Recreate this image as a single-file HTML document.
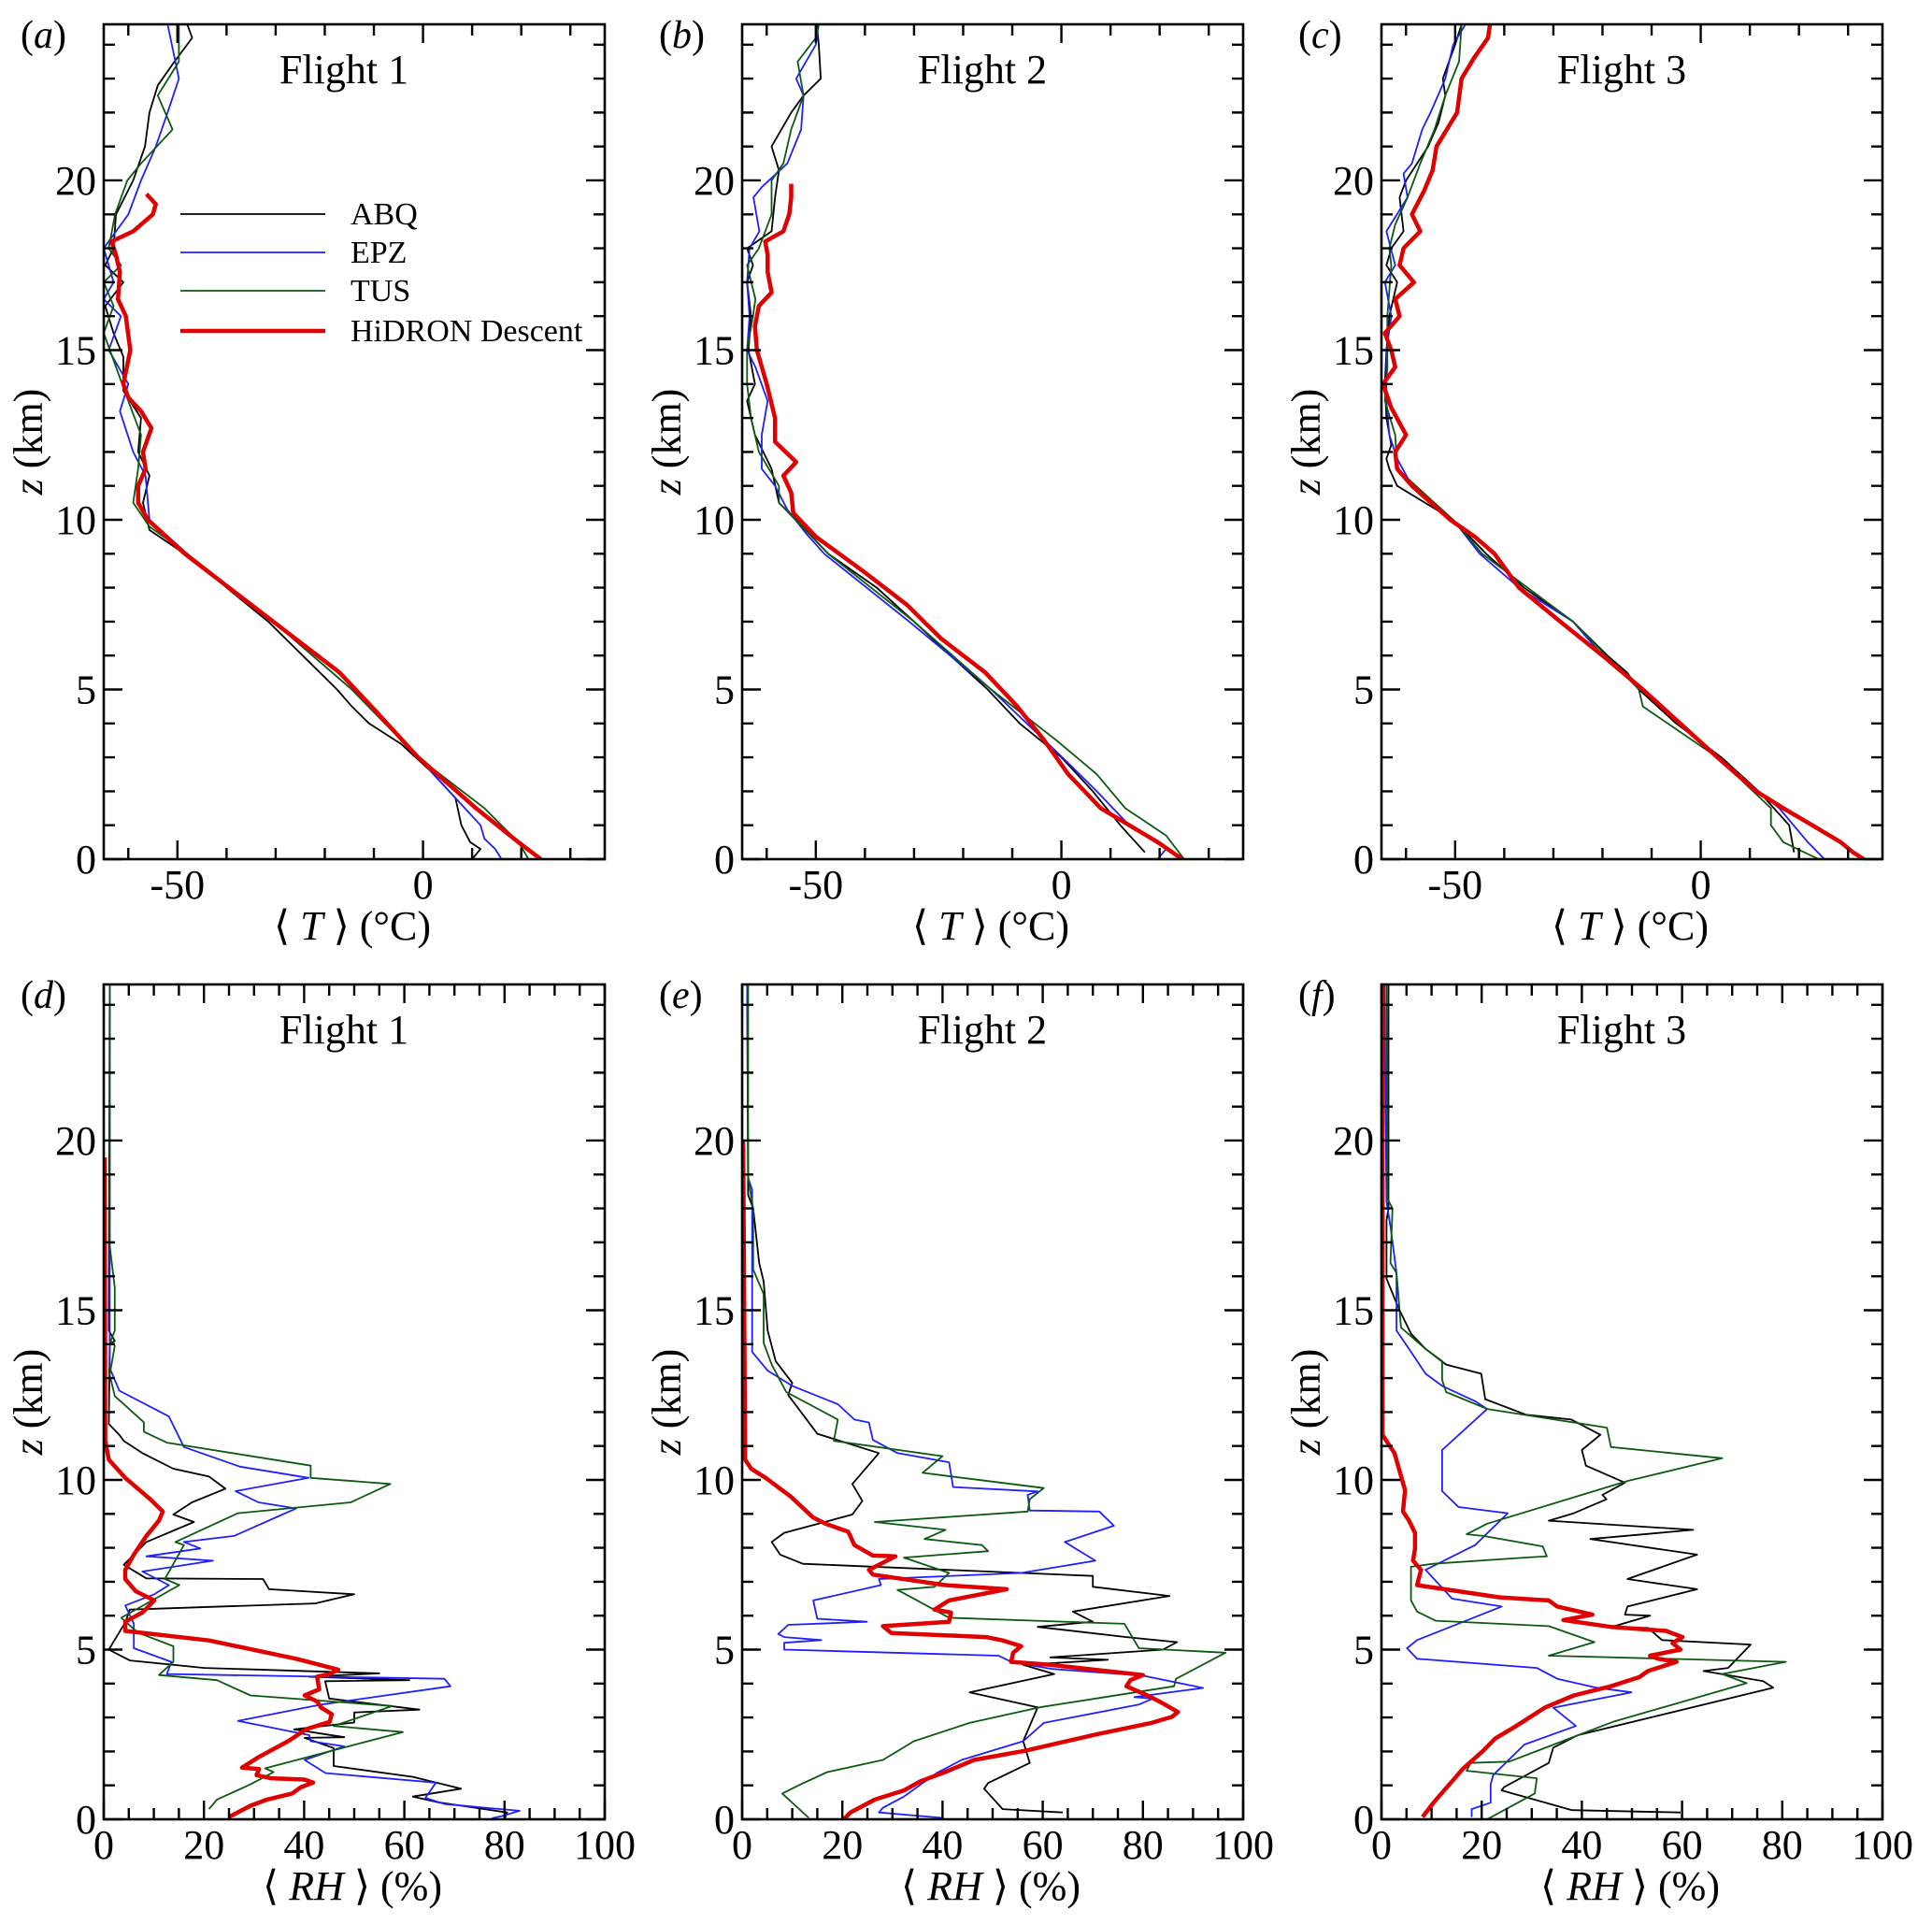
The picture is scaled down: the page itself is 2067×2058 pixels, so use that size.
<!DOCTYPE html>
<html><head><meta charset="utf-8"><style>
html,body{margin:0;padding:0;background:#fff;}
svg{display:block;font-family:"Liberation Serif",serif;}
</style></head><body>
<svg id="fig" width="2067" height="2058" viewBox="0 0 2067 2058" xmlns="http://www.w3.org/2000/svg"></svg>
<script>
// ---- Temperature data: [z km, T degC]
const abqT1=[[0,10],[0.3,11.7],[0.5,9.6],[1,7.8],[1.8,6.6],[2.6,1.5],[3.4,-4.5],[4,-11],[4.5,-14.5],[5,-17.5],[6,-24.5],[7,-31.5],[8,-40],[8.8,-46.5],[9.7,-55.7],[10.5,-57],[11.3,-55.7],[12,-58],[13,-57.4],[13.8,-61],[14.8,-61],[15.5,-63],[16.3,-64.7],[17,-61],[17.5,-64.7],[18,-63],[19,-62.5],[20,-59],[21,-56.6],[22,-55.7],[22.8,-54],[23.5,-50.6],[24.2,-47],[24.6,-48]];
const epzT1=[[0,16],[0.3,14.7],[0.6,12.5],[1,11.7],[3,-1],[5,-14.5],[7,-30.5],[9,-48],[10,-55.7],[10.5,-56],[11.3,-56.5],[12,-59],[13.2,-61.7],[14,-60],[15,-64],[16,-61.5],[16.5,-65],[17,-63],[18,-65],[19,-60],[20,-57.4],[21,-54.4],[22,-52],[23,-49.7],[24.6,-52]];
const tusT1=[[0,21.5],[0.5,19.4],[1.5,12.5],[3,-1],[5,-14.5],[7,-30.5],[9,-48],[9.8,-55.7],[10.5,-59],[11.5,-58],[12.5,-57.4],[13.5,-60],[14.5,-62.5],[15.5,-65],[16.3,-63],[17,-65],[17.5,-61.5],[18,-64],[19,-62.7],[20,-60.2],[20.5,-57.4],[21.5,-51],[22.5,-54],[23.5,-49.7],[24.6,-49.7]];
const hidT1=[[0,24],[0.5,19.4],[1.5,10.8],[3,-1],[4.5,-10.5],[5.5,-17],[7,-30.5],[8,-39.5],[9,-48.5],[10,-56],[10.5,-58],[11,-58],[11.5,-56.5],[12,-57],[12.7,-55.3],[13.2,-57.4],[13.6,-60],[14,-61],[15,-59.6],[16,-60.5],[16.5,-62.1],[17.3,-61.7],[17.8,-62.5],[18.2,-63.4],[18.5,-59],[19,-55],[19.3,-54.4],[19.6,-56.3]];
const abqT2=[[0.2,17],[1,12],[2,6.4],[3,0],[4,-8.5],[5,-15],[6,-22.6],[7,-30],[8,-37.6],[9,-47.5],[10,-54],[10.5,-57.5],[11.5,-59],[12.5,-62.4],[13.5,-64],[14,-62.4],[15,-63.7],[16,-63.2],[17,-64],[17.5,-62.8],[18,-64],[18.5,-59],[19.5,-58.3],[20.3,-57.5],[21,-59],[22,-55],[22.5,-52.5],[23,-49],[24,-49.4],[24.6,-49.8]];
const epzT2=[[0,19.6],[0.3,21.3],[1,13.8],[2,7.2],[3,0.2],[5,-14.3],[7,-31],[9,-48.3],[9.6,-52],[10.3,-55.8],[11,-58.3],[11.5,-61],[12.5,-61],[13.5,-59.8],[14.5,-62.3],[15,-64],[16,-63.5],[17,-64],[18,-63.5],[18.5,-61.5],[19.5,-62.7],[19.8,-61],[20.5,-55.8],[21.5,-53],[22.5,-52.5],[23,-54],[24,-50],[24.6,-49.4]];
const tusT2=[[0,25],[0.7,21.3],[1.5,13],[2.5,7.2],[3.5,-1],[5,-14.3],[7,-30],[9,-47.5],[10.5,-57.5],[11,-57.5],[12,-61.6],[13,-63.2],[14,-64],[15,-64],[16,-62.8],[16.5,-62.3],[17.5,-64],[18,-61.6],[19,-59],[20,-59],[20.5,-56.6],[21.5,-55],[22.5,-52.5],[23.5,-53.7],[24.2,-50],[24.6,-49.4]];
const hidT2=[[0,24.6],[0.5,19.6],[1.5,8],[2.5,1.4],[3.5,-3.5],[4.5,-9],[5.5,-15.5],[6.5,-24.5],[7.5,-31.5],[8.5,-40.5],[9.5,-50],[10.2,-54.6],[10.8,-55],[11.3,-56.6],[11.7,-54],[12.3,-58.3],[13,-58.3],[14,-60],[15,-62],[15.7,-62.4],[16.3,-61.6],[16.7,-59],[17.3,-59.8],[17.8,-59.8],[18.2,-60.3],[18.5,-56.6],[19,-55.4],[19.5,-55],[19.9,-55]];
const abqT3=[[0.2,19],[1,18],[2,11.8],[3,4.2],[4,-5],[5,-12.6],[5.5,-15],[6,-19],[7,-26],[8,-36],[9,-43.7],[10,-50.4],[11,-61.8],[11.5,-63.4],[11.8,-64],[12.2,-63],[13,-64],[14,-64.3],[15,-64],[16,-63.4],[17,-61.8],[17.5,-64],[18,-63],[18.5,-60.5],[19.5,-61.3],[20,-60],[21,-55.5],[21.7,-53.4],[22.5,-52],[23,-52.5],[24,-50],[24.6,-48.7]];
const epzT3=[[0,25.2],[0.5,21.8],[1.5,16],[3,3.4],[5,-11.8],[6,-20],[7,-26],[8,-37],[9,-45],[10,-50.4],[11,-58.8],[11.8,-61.8],[12.5,-63.4],[13.5,-64],[15,-64],[16,-63],[17,-64.3],[17.5,-62.2],[18.5,-64],[19.5,-59.7],[20.2,-60.5],[20.5,-58.8],[21.5,-56.7],[22,-55],[23,-52],[24,-50.4],[24.6,-47.9]];
const tusT3=[[0,24],[0.5,16.8],[1,14.3],[1.5,14.3],[3,3.4],[4.5,-11.8],[5,-12.6],[7,-26],[9,-44.5],[10,-50.4],[11,-58],[11.5,-61.8],[12.5,-62.2],[13.5,-64.3],[14.5,-63.8],[16,-63.8],[17.5,-63],[18,-63.4],[18.7,-62.2],[19.5,-59.7],[20.5,-57.1],[21.5,-54.2],[22.5,-52],[23.5,-49.2],[24.6,-48.7]];
const hidT3=[[0,33.2],[0.2,31],[0.5,28.5],[1,22.7],[1.5,16.8],[2,11.3],[3,3.4],[4,-4.2],[5,-11.8],[6,-20],[7,-28.6],[8,-37],[9,-42],[9.5,-46],[10,-51],[11,-58.8],[11.5,-61.8],[12,-62.2],[12.5,-60],[13.3,-63],[14,-64.7],[14.5,-62.2],[15,-63],[15.5,-64.3],[16,-61.3],[16.5,-62.2],[17,-58.4],[17.5,-61.3],[18,-60.5],[18.5,-57.1],[19,-58.8],[19.7,-56.3],[20.3,-54.6],[21,-53.8],[22,-49.6],[23,-48.7],[23.6,-46.2],[24.2,-43.3],[24.6,-42.9]];
// ---- Relative humidity data: [z km, RH %]
const abqR1=[[0,80],[0.2,80.5],[0.5,66.7],[0.67,61.7],[0.9,71.3],[1.25,61.7],[1.57,45.9],[2.1,45.9],[2.4,40.1],[2.42,48],[2.65,38],[2.85,50],[3.15,50],[3.23,63],[3.56,45],[4.07,44.2],[4.1,61],[4.2,41],[4.3,55],[4.46,20.1],[4.68,5.2],[5,1],[5.8,4.3],[6.18,5.2],[6.36,42.2],[6.63,50],[6.78,33],[7.08,31.8],[7.1,8.5],[7.5,4],[8.17,8.5],[8.76,18],[8.98,13.9],[9.34,17.6],[9.74,24.3],[10.1,21],[10.33,13.9],[10.79,7.7],[11.15,4],[11.33,3.1],[11.65,1],[14,1.2],[14.1,2.2],[14.4,1],[24.6,1.2]];
const epzR1=[[0.03,77.5],[0.1,79.6],[0.25,83],[0.45,68],[0.63,64.2],[1.08,66.3],[1.36,44.3],[1.75,40.1],[2.15,48],[2.3,41.3],[2.48,41],[2.9,26.8],[3.38,43.4],[3.92,69.2],[4.14,68],[4.28,12.6],[4.64,13.5],[5.04,6],[5.76,6],[6.3,4.3],[6.63,10.1],[6.9,13],[7.3,7.7],[7.62,21.8],[7.75,8.5],[7.98,19.3],[8.17,16],[8.35,26],[9.16,38.4],[9.34,30.9],[9.67,26.3],[10.06,40.9],[10.39,27.2],[10.97,16],[11.87,13],[12.63,3.1],[13.3,1.2],[16.9,1.2],[24.6,1.2]];
const tusR1=[[0.3,21],[0.58,22.6],[1.03,29.3],[1.39,33.9],[1.5,32.2],[2.57,59.7],[2.75,45.9],[3.34,57.6],[3.65,29.3],[4.1,22.6],[4.25,11],[4.64,13.9],[5.1,13.9],[5.5,6.8],[5.94,3.5],[6.9,15.1],[7.08,12.2],[8.08,16],[8.17,14.3],[9.02,26.8],[9.34,49.3],[9.88,57.2],[10.06,41.3],[10.42,41.3],[11.1,12.6],[11.42,8],[11.7,8],[12.47,2.2],[13.1,1.2],[13.95,2.2],[14.1,1.4],[14.4,2.2],[15.03,2.2],[15.66,2.2],[16.9,1.2],[24.6,1.2]];
const hidR1=[[0.07,25],[0.4,29.3],[0.58,32.6],[0.76,37.6],[0.94,39.3],[1.08,41.8],[1.17,40.1],[1.21,33.4],[1.3,30.5],[1.48,31],[1.52,27.6],[1.84,31],[2.3,36.8],[2.66,40.5],[2.87,45.1],[3.1,45.5],[3.29,43.4],[3.47,42.6],[3.65,40.1],[3.83,43],[4.2,42.6],[4.28,45.1],[4.41,46.8],[4.73,38.4],[5.27,21],[5.55,4.3],[5.82,4.3],[6.09,7.7],[6.45,10.1],[6.72,6.4],[7.08,4.3],[7.35,4.3],[7.8,6],[8.35,8.5],[8.8,11],[9.07,11.8],[9.43,9.3],[10.06,4.3],[10.6,1],[11.15,0.3],[19.5,0.2]];
const abqR2=[[0.2,64],[0.3,52],[0.9,48.3],[1.07,49.1],[1.66,57.4],[2.3,56.1],[3.3,59],[3.74,45.4],[4.28,62.3],[4.55,56.1],[4.7,73],[4.77,61.5],[5,84],[5.22,86.8],[5.37,76.7],[5.67,59],[5.82,70],[6.12,66],[6.58,85.3],[6.85,70],[7.17,70],[7.53,12.1],[7.8,7.6],[8.17,5.9],[8.44,8.4],[8.98,22],[9.38,24],[9.88,22],[10.79,27.3],[11.36,15],[12.5,9.2],[12.86,10],[13.5,6.7],[14.4,5.1],[15.85,4.3],[16.4,3.4],[18,2.2],[18.4,1.2],[24.6,1]];
const epzR2=[[0.04,40],[0.2,27.3],[0.34,28.1],[0.67,32.3],[1.36,38.8],[1.75,43.8],[2.3,56.1],[2.84,60.2],[3.38,79.2],[3.56,82],[3.6,78.3],[3.87,92],[4.23,80],[4.43,61.9],[4.64,53.7],[4.82,51.2],[5,8.4],[5.2,8.4],[5.28,15.8],[5.37,8.4],[5.46,7.2],[5.73,9.2],[5.82,24.9],[5.91,15],[6.45,14.2],[6.9,27.7],[7.08,27.3],[7.26,55.7],[7.62,70.5],[8.17,64.4],[8.65,74.2],[9.07,71.3],[9.1,57.4],[9.56,57],[9.66,59],[9.79,42.1],[10.52,41.3],[10.79,31],[11.18,26.1],[11.69,25.3],[11.78,22.4],[12.23,19.1],[12.77,10],[13.22,5.1],[13.77,2],[18.55,2],[18.9,1.2],[24.6,1]];
const tusR2=[[0.04,13.3],[0.76,8],[1.03,11.7],[1.39,17],[1.75,28.1],[2.3,34.3],[2.84,45.4],[3.3,59.4],[3.92,86.2],[4.14,86.6],[4.91,96.5],[5.04,79.2],[5.76,76.3],[5.94,41.3],[6.76,31],[6.85,38.4],[7.26,41.3],[7.71,32.3],[7.9,49.1],[8.08,47.9],[8.26,36.4],[8.53,40.6],[8.76,26.5],[9.07,57],[9.43,57.4],[9.76,60.2],[10.21,36],[10.7,40],[11.15,18.3],[11.78,19.1],[12.59,8.8],[13.4,5.9],[14.04,4.3],[15.48,4.3],[16.2,2.2],[18,2.2],[18.9,1.2],[24.6,1.2]];
const hidR2=[[0,20.3],[0.2,21.6],[0.58,26.5],[0.85,32.3],[1.12,35.6],[1.39,40.5],[1.75,46.3],[1.9,52],[2.02,56.5],[2.51,70.9],[2.84,81.7],[3.02,85.8],[3.16,87],[3.47,83.3],[3.65,80.9],[3.92,76.7],[4.1,77.5],[4.25,80],[4.55,61.5],[4.64,53.7],[4.91,54.1],[5.1,55.7],[5.27,52],[5.37,48.7],[5.49,29.8],[5.69,28.1],[5.82,41.3],[6.09,41.7],[6.18,38.4],[6.45,41.3],[6.78,52.8],[6.9,40.5],[7.21,26.1],[7.35,25.3],[7.75,30.6],[7.77,26.1],[8.08,22.4],[8.47,21.2],[8.71,16.6],[8.89,14.2],[9.52,9.6],[10.06,4.7],[10.33,1.8],[10.6,0.6],[20,0.2]];
const abqR3=[[0.2,59.7],[0.27,38],[0.85,24],[0.95,24.5],[1.66,33.4],[2.11,34.3],[2.48,39.2],[3.88,78.2],[4.07,76.2],[4.37,64.3],[4.46,69.2],[5.15,73.7],[5.28,56],[5.64,53.2],[5.66,45.8],[6,53.6],[6.03,48.6],[6.27,49.1],[6.78,63],[7.08,49.1],[7.8,63],[8.26,41.7],[8.53,62.2],[8.8,33.4],[9.02,38.4],[9.43,44.9],[9.56,44.1],[9.92,48.6],[10.42,40.8],[10.88,40],[11.33,43.7],[11.78,37.9],[11.92,28.9],[12.38,20.7],[12.77,20.3],[13.13,19.9],[13.4,12.9],[13.86,8.8],[14.31,5.9],[15.03,3.5],[15.93,1],[17.65,1],[18,1.4],[24.6,1.4]];
const epzR3=[[0.07,18],[0.3,18],[0.49,21.8],[1.03,21.8],[1.3,22.3],[2.2,28.5],[2.75,38.8],[3.29,34.3],[3.74,49.9],[3.88,42.9],[4.14,35.1],[4.46,31],[4.73,7.1],[5.04,5.1],[5.28,7.1],[6.27,24],[6.5,14.1],[7.35,8.8],[8.08,18.7],[9.02,25.2],[9.2,15.4],[9.67,12.1],[10.88,12.1],[12.09,21.1],[12.32,18.7],[12.77,12.1],[13.13,8.8],[13.86,5.5],[14.4,3],[16.1,3],[17.47,1.8],[18.2,1],[24.6,0.6]];
const tusR3=[[0,21.1],[0.76,30.6],[1.21,31],[1.43,17],[1.66,17.8],[1.7,25.5],[2.87,46.2],[4.01,72.9],[4.28,68],[4.64,80.7],[4.82,33.4],[5.22,42.5],[5.69,33.4],[5.85,10.8],[6.12,7.1],[6.45,5.9],[7.44,5.9],[7.53,10.3],[7.71,28.5],[7.75,33],[8.04,32.2],[8.35,20.3],[8.4,17],[8.71,21.1],[9.97,49.1],[10.64,68],[10.97,45.8],[11.54,45],[12.09,21.1],[12.59,12.9],[12.95,12.1],[13.5,12.1],[13.86,8.8],[14.49,3.9],[16.1,3],[16.39,1.8],[18,2.2],[18.28,1.2],[24.6,1]];
const hidR3=[[0.07,8.2],[0.49,10.4],[1.12,14.1],[1.48,16.2],[2.02,20.3],[2.38,22.7],[2.75,26.9],[3.29,32.6],[3.65,38.4],[3.92,45.8],[4.19,51.5],[4.37,53.2],[4.64,58.9],[4.73,55.2],[4.82,53.6],[5,59.7],[5.19,58.1],[5.37,60.1],[5.55,56.8],[5.67,45.8],[5.87,36.3],[6.03,42.1],[6.27,35.1],[6.45,33.4],[6.54,23.6],[6.9,7.1],[7.35,7.9],[7.62,6.3],[7.98,6.7],[8.44,6.7],[8.8,5.5],[9.07,4.3],[9.7,4.7],[10.79,2.6],[11.33,0.2],[24.6,0.2]];
// ---- axis configuration
const tXTicks=["-50","0"];
const rhXTicks=["0","20","40","60","80","100"];
const zTicks=["0","5","10","15","20"];
const seriesNames=["ABQ","EPZ","TUS","HiDRON Descent"];
const panelLetters=["a","b","c","d","e","f"];
const flightTitles=["Flight 1","Flight 2","Flight 3"];

const NS="http://www.w3.org/2000/svg";
const svg=document.getElementById('fig');
const COL={ABQ:"#000000",EPZ:"#1f1fff",TUS:"#0b5a10","HiDRON Descent":"#e00000"};
const WID={ABQ:1.8,EPZ:1.8,TUS:1.8,"HiDRON Descent":4.5};
function mk(tag,attrs,parent){const e=document.createElementNS(NS,tag);for(const k in attrs)e.setAttribute(k,attrs[k]);(parent||svg).appendChild(e);return e;}
const X0=[111,794,1478],PW=536;
const ROWY=[[26,919],[1053,1946]];
const ZMAX=24.6;
const TMIN=-65,TMAX=37;

function panel(col,row,kind,data){
  const x0=X0[col],x1=x0+PW,yt=ROWY[row][0],yb=ROWY[row][1];
  const xmin=kind==="T"?TMIN:0,xmax=kind==="T"?TMAX:100;
  const sx=v=>x0+(v-xmin)/(xmax-xmin)*PW;
  const sy=z=>yb-z/ZMAX*(yb-yt);
  const g=mk('g',{});
  
  
  const cp='clip'+row+col;
  const cl=mk('clipPath',{id:cp},g);mk('rect',{x:x0,y:yt,width:PW,height:yb-yt},cl);
  const sg=mk('g',{'clip-path':'url(#'+cp+')'},g);
  data.forEach((pts,i)=>{
    const nm=seriesNames[i];
    const d=pts.map((p,j)=>(j?'L':'M')+sx(p[1]).toFixed(1)+' '+sy(p[0]).toFixed(1)).join('');
    const p=mk('path',{d:d,fill:'none',stroke:COL[nm],'stroke-width':WID[nm],'stroke-linejoin':'round'},sg);
    
    
  });
  const fr=mk('rect',{x:x0,y:yt,width:PW,height:yb-yt,fill:'none',stroke:'#000','stroke-width':2.6},g);
  
  
  let tk='';
  for(let z=0;z<=ZMAX;z+=1){const y=sy(z),L=(z%5===0)?20:12;tk+=`M${x0} ${y}h${L}M${x1} ${y}h${-L}`;}
  const step=kind==="T"?10:5,maj=kind==="T"?50:20;
  for(let v=Math.ceil(xmin/step)*step;v<=xmax;v+=step){const x=sx(v),L=(v%maj===0)?20:12;tk+=`M${x} ${yb}v${-L}M${x} ${yt}v${L}`;}
  const tp=mk('path',{d:tk,stroke:'#000','stroke-width':2.4,fill:'none'},g);
  
  
  zTicks.forEach(t=>{const e=mk('text',{x:x0-8,y:sy(+t)+15,'text-anchor':'end','font-size':44},g);e.textContent=t;
    
    });
  (kind==="T"?tXTicks:rhXTicks).forEach(t=>{const e=mk('text',{x:sx(+t),y:yb+42,'text-anchor':'middle','font-size':44},g);e.textContent=t;
    
    });
  const yl=mk('text',{x:0,y:0,'font-size':44,'text-anchor':'middle',transform:`translate(${x0-66},${sy(12.3)}) rotate(-90)`},g);
  yl.innerHTML='<tspan font-style="italic">z</tspan> (km)';
  
  
  const xl=mk('text',{x:x0+(x1-x0)/2-2,y:yb+86,'font-size':44,'text-anchor':'middle'},g);
  xl.innerHTML=kind==="T"?'⟨ <tspan font-style="italic">T</tspan> ⟩ (°C)':'⟨ <tspan font-style="italic">RH</tspan> ⟩ (%)';
  
  
  const ttl=mk('text',{x:x0+257,y:yt+63,'font-size':44,'text-anchor':'middle'},g);
  ttl.textContent=flightTitles[col];
  
  
  const lt=mk('text',{x:x0-89,y:yt+25,'font-size':42},g);
  lt.innerHTML='(<tspan font-style="italic">'+panelLetters[row*3+col]+'</tspan>)';
  
  
}
panel(0,0,"T",[abqT1,epzT1,tusT1,hidT1]);
panel(1,0,"T",[abqT2,epzT2,tusT2,hidT2]);
panel(2,0,"T",[abqT3,epzT3,tusT3,hidT3]);
panel(0,1,"RH",[abqR1,epzR1,tusR1,hidR1]);
panel(1,1,"RH",[abqR2,epzR2,tusR2,hidR2]);
panel(2,1,"RH",[abqR3,epzR3,tusR3,hidR3]);
const lg=mk('g',{});


const legY=[229,270,311,354];
seriesNames.forEach((nm,i)=>{
  const ln=mk('line',{x1:193,x2:348,y1:legY[i],y2:legY[i],stroke:COL[nm],'stroke-width':WID[nm]},lg);
  
  
  const t=mk('text',{x:375,y:legY[i]+11,'font-size':34},lg);t.textContent=nm;
  
  
});
</script>
</body></html>
